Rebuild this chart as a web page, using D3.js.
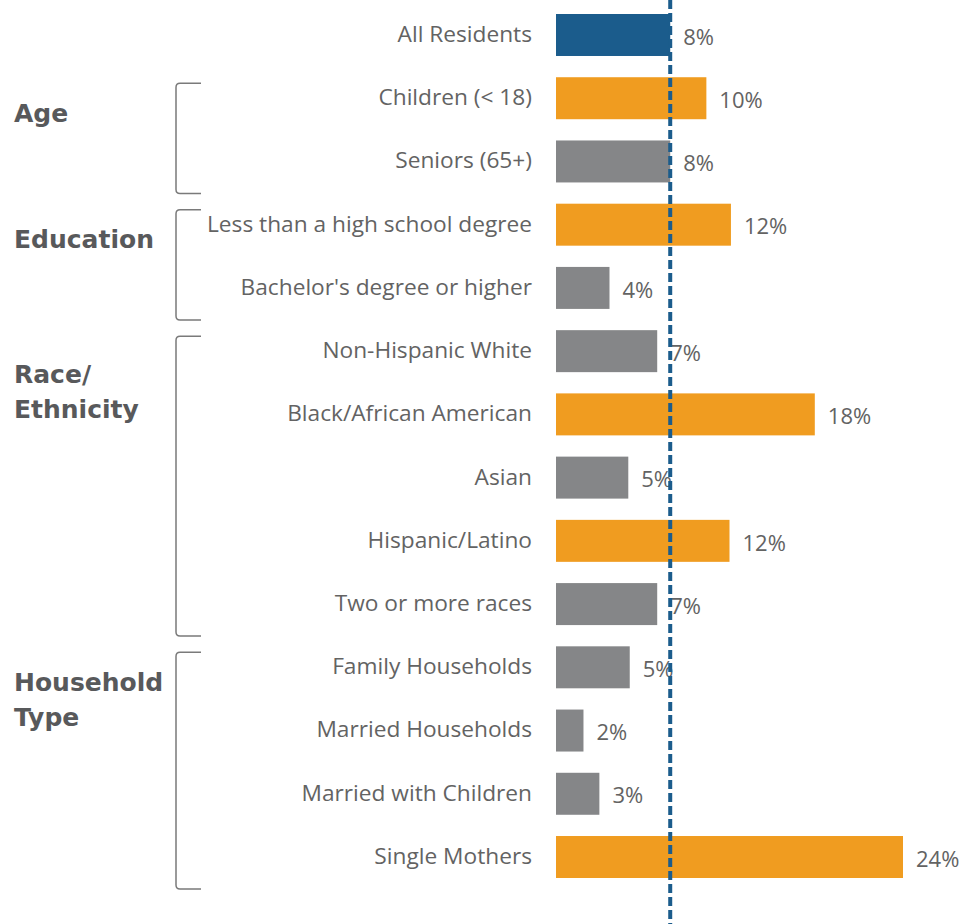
<!DOCTYPE html>
<html>
<head>
<meta charset="utf-8">
<script src="https://cdn.jsdelivr.net/npm/d3@7"></script>
<style>
  body { margin: 0; background: #fff; }
  svg { display: block; }
</style>
</head>
<body>
<div id="chart"></div>
<script>
// categories and values (%)
const categories = [
  "All Residents",
  "Children (< 18)", "Seniors (65+)",
  "Less than a high school degree", "Bachelor's degree or higher",
  "Non-Hispanic White", "Black/African American", "Asian", "Hispanic/Latino", "Two or more races",
  "Family Households", "Married Households", "Married with Children", "Single Mothers"
];
const values = [7.9, 10.4, 7.9, 12.1, 3.7, 7.0, 17.9, 5.0, 12.0, 7.0, 5.1, 1.9, 3.0, 24.0];
const valueLabels = ["8%", "10%", "8%", "12%", "4%", "7%", "18%", "5%", "12%", "7%", "5%", "2%", "3%", "24%"];

// groups: name lines, first and last category
const groupNames = [["Age"], ["Education"], ["Race/", "Ethnicity"], ["Household", "Type"]];
const groupFirst = ["Children (< 18)", "Less than a high school degree", "Non-Hispanic White", "Family Households"];
const groupLast = ["Seniors (65+)", "Bachelor's degree or higher", "Two or more races", "Single Mothers"];

const width = 963, height = 924;
const textColor = "#636363";

let svg = d3.select("#chart")
  .append("svg")
  .attr("width", width)
  .attr("height", height)
  .style("font-family", "'Open Sans', sans-serif");

let x = d3.scaleLinear().domain([0, 24]).range([556, 903]);
let y = d3.scaleBand().domain(categories).range([14, 878]).paddingInner(0.336).paddingOuter(0);

const avg = values[0];
let data = categories.map((c, i) => ({ cat: c, v: values[i], label: valueLabels[i], i: i }));

// bars
svg.selectAll("rect.bar")
  .data(data)
  .enter()
  .append("rect")
  .attr("class", "bar")
  .attr("x", x(0))
  .attr("y", d => y(d.cat))
  .attr("width", d => x(d.v) - x(0))
  .attr("height", y.bandwidth())
  .attr("fill", d => d.i === 0 ? "#1b5c8c" : (d.v > avg ? "#f09c20" : "#858688"));

// category labels
svg.selectAll("text.cat")
  .data(data)
  .enter()
  .append("text")
  .attr("class", "cat")
  .attr("x", 532)
  .attr("y", d => y(d.cat) + y.bandwidth() / 2 - 1)
  .attr("dy", "0.35em")
  .attr("text-anchor", "end")
  .attr("font-size", 22.7)
  .attr("fill", textColor)
  .text(d => d.cat);

// value labels
svg.selectAll("text.val")
  .data(data)
  .enter()
  .append("text")
  .attr("class", "val")
  .attr("x", d => x(d.v) + 13)
  .attr("y", d => y(d.cat) + y.bandwidth() / 2 + 2)
  .attr("dy", "0.35em")
  .attr("font-size", 22)
  .attr("fill", textColor)
  .text(d => d.label);

// brackets
groupNames.forEach((g, k) => {
  let top = y(groupFirst[k]) + 6;
  let bot = y(groupLast[k]) + y.bandwidth() + 11;
  let bx = 176, ex = 201, r = 4;
  svg.append("path")
    .attr("d", `M${ex},${top} L${bx + r},${top} Q${bx},${top} ${bx},${top + r} L${bx},${bot - r} Q${bx},${bot} ${bx + r},${bot} L${ex},${bot}`)
    .attr("fill", "none")
    .attr("stroke", "#7a7a7a")
    .attr("stroke-width", 1.5);

  let t = svg.append("text")
    .attr("x", 14)
    .attr("y", y(groupFirst[k]) + (g.length > 1 && k === 2 ? 44 : 36))
    .attr("font-family", "'DejaVu Sans', sans-serif")
    .attr("font-size", 25)
    .attr("font-weight", "bold")
    .attr("fill", "#58595b");
  g.forEach((line, j) => {
    t.append("tspan")
      .attr("x", 14)
      .attr("dy", j === 0 ? "0.35em" : 35)
      .text(line);
  });
});

// average dashed line
svg.append("line")
  .attr("x1", x(avg))
  .attr("x2", x(avg))
  .attr("y1", 0)
  .attr("y2", height)
  .attr("stroke", "#1b5c8c")
  .attr("stroke-width", 4)
  .attr("stroke-dasharray", "9,4");
</script>
</body>
</html>
